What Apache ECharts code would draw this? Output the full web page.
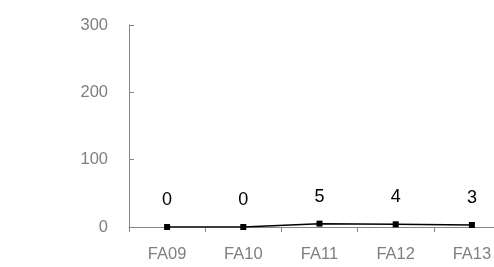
<!DOCTYPE html>
<html><head><meta charset="utf-8">
<script src="https://cdn.jsdelivr.net/npm/echarts@6/dist/echarts.min.js"></script>
<style>html,body{margin:0;padding:0;background:#fff;overflow:hidden;width:494px;height:267px}#c{width:510px;height:267px}</style>
</head><body><div id="c"></div>
<script>
var categories = ["FA09", "FA10", "FA11", "FA12", "FA13"];
var values = [0, 0, 5, 4, 3];
var yMin = 0, yMax = 300, yStep = 100;

var chart = echarts.init(document.getElementById('c'), null, {renderer: 'canvas'});
chart.setOption({
  animation: false,
  grid: {left: 129, right: 0, top: 25, bottom: 40},
  xAxis: {
    type: 'category', data: categories, boundaryGap: true,
    axisLine: {lineStyle: {color: '#868686', width: 1}},
    axisTick: {show: true, inside: false, length: 5, lineStyle: {color: '#868686'}},
    axisLabel: {color: '#7f7f7f', fontSize: 16.5, fontFamily: 'Liberation Sans, Arial, sans-serif', margin: 19}
  },
  yAxis: {
    type: 'value', min: yMin, max: yMax, interval: yStep,
    axisLine: {show: true, lineStyle: {color: '#868686', width: 1}},
    axisTick: {show: true, inside: true, length: 5, lineStyle: {color: '#868686'}},
    splitLine: {show: false},
    axisLabel: {color: '#7f7f7f', fontSize: 16.5, fontFamily: 'Liberation Sans, Arial, sans-serif', margin: 21}
  },
  series: [{
    type: 'line', data: values,
    symbol: 'rect', symbolSize: 6,
    lineStyle: {color: '#000', width: 1.5},
    itemStyle: {color: '#000'},
    label: {show: true, position: 'top', distance: 15, color: '#000', fontSize: 18, fontFamily: 'Liberation Sans, Arial, sans-serif'}
  }]
});
</script></body></html>
